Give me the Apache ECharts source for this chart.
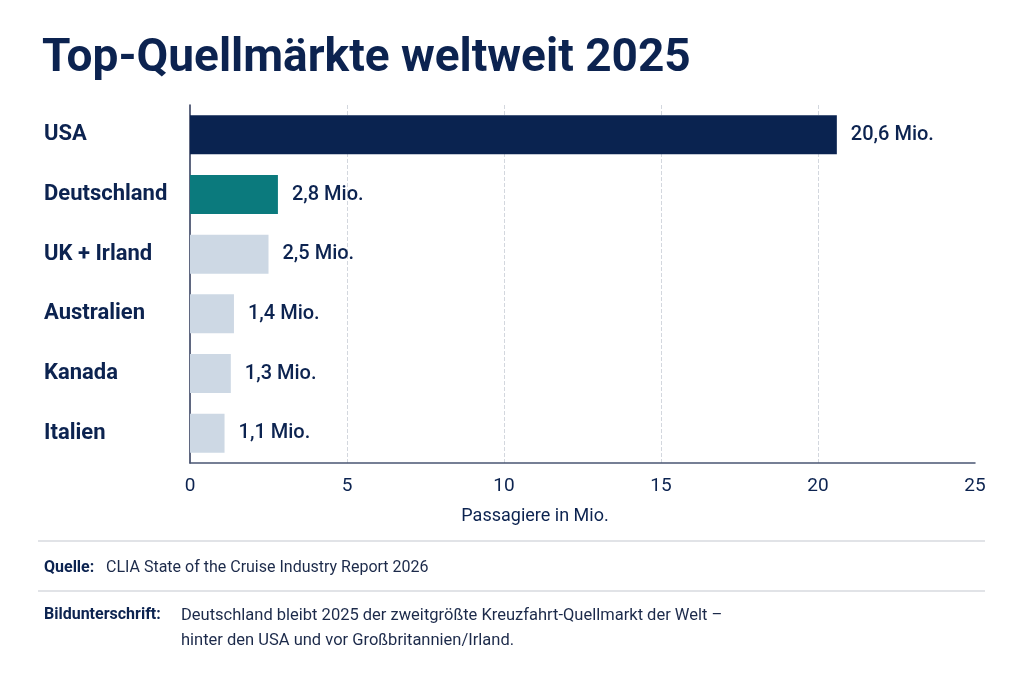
<!DOCTYPE html>
<html><head><meta charset="utf-8">
<script src="https://cdn.jsdelivr.net/npm/echarts@6/dist/echarts.min.js"></script>
<style>html,body{margin:0;padding:0;background:#fff}#c{width:1024px;height:683px}</style>
</head><body><div id="c"></div>
<script>
const categories = ['USA','Deutschland','UK + Irland','Australien','Kanada','Italien'];
const values = [20.6, 2.8, 2.5, 1.4, 1.3, 1.1];
const xTicks = [0,5,10,15,20,25];
const titleText = 'Top-Quellmärkte weltweit 2025';
const axisName = 'Passagiere in Mio.';
const sourceLabel = 'Quelle:';
const sourceText = 'CLIA State of the Cruise Industry Report 2026';
const captionLabel = 'Bildunterschrift:';
const captionLines = ['Deutschland bleibt 2025 der zweitgrößte Kreuzfahrt-Quellmarkt der Welt –','hinter den USA und vor Großbritannien/Irland.'];

const NAVY = '#0c2350';
const colorFor = name => name === 'USA' ? '#0a2350' : (name === 'Deutschland' ? '#0b7a7d' : '#cdd8e4');
const F = 'Roboto, sans-serif';

const chart = echarts.init(document.getElementById('c'));
chart.setOption({
  backgroundColor: '#fff',
  animation: false,
  title: {
    text: titleText, left: 37, top: 31,
    textStyle: {fontFamily: F, fontWeight: 'bold', fontSize: 46, color: NAVY}
  },
  grid: {left: 190, right: 49, top: 105, bottom: 220, containLabel: false},
  xAxis: {
    type: 'value', min: 0, max: 25, interval: 5,
    name: axisName, nameLocation: 'middle', nameGap: 44,
    nameTextStyle: {fontFamily: F, fontSize: 18, color: NAVY, padding: [0, 95, 0, 0]},
    axisLine: {show: true, lineStyle: {color: '#4a5573', width: 1.5}},
    axisTick: {show: false},
    axisLabel: {fontFamily: F, fontSize: 19, color: NAVY, margin: 14,
      formatter: v => xTicks.includes(v) ? String(v) : ''},
    splitLine: {show: true, showMinLine: false, showMaxLine: false, lineStyle: {type: 'dashed', color: '#d3d7de', width: 1}}
  },
  yAxis: {
    type: 'category', data: categories, inverse: true,
    axisLine: {show: true, lineStyle: {color: '#2a3556', width: 1.5}},
    axisTick: {show: false},
    axisLabel: {align: 'left', margin: 146, fontFamily: F, fontWeight: 'bold', fontSize: 22, color: NAVY}
  },
  series: [{
    type: 'bar', data: values, barWidth: 39,
    itemStyle: {color: p => colorFor(p.name)},
    label: {show: true, position: 'right', distance: 14, fontFamily: F, fontWeight: 500, fontSize: 20, color: NAVY,
      formatter: p => String(p.value).replace('.', ',') + ' Mio.'}
  }],
  graphic: [
    {type: 'line', shape: {x1: 38, y1: 541, x2: 985, y2: 541}, style: {stroke: '#c4c8cf', lineWidth: 1.2}},
    {type: 'text', left: 44, top: 560, style: {text: sourceLabel, font: 'bold 16px ' + F, fill: NAVY}},
    {type: 'text', left: 106, top: 560, style: {text: sourceText, font: '16px ' + F, fill: '#1c2a4a'}},
    {type: 'line', shape: {x1: 38, y1: 591, x2: 985, y2: 591}, style: {stroke: '#c4c8cf', lineWidth: 1.2}},
    {type: 'text', left: 44, top: 607, style: {text: captionLabel, font: 'bold 16px ' + F, fill: NAVY}},
    {type: 'text', left: 181, top: 607, style: {text: captionLines[0], font: '16.5px ' + F, fill: '#1c2a4a'}},
    {type: 'text', left: 181, top: 632, style: {text: captionLines[1], font: '16.5px ' + F, fill: '#1c2a4a'}}
  ]
});
</script></body></html>
